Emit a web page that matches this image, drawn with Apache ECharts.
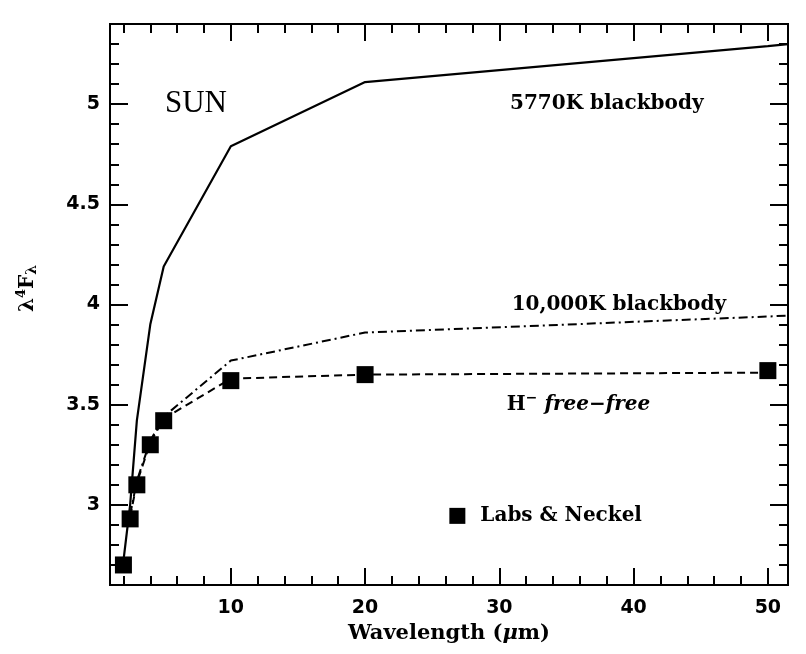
<!DOCTYPE html>
<html>
<head>
<meta charset="utf-8">
<title>SUN</title>
<script src="https://cdn.jsdelivr.net/npm/echarts@6/dist/echarts.min.js"></script>
<style>
  html, body { margin: 0; padding: 0; background: #fff; }
  #chart { width: 806px; height: 654px; }
</style>
</head>
<body>
<div id="chart"></div>
<script>
// Labs & Neckel points
const wavelengths = [2, 2.5, 3, 4, 5, 10, 20, 50]
const labsNeckel = [2.70, 2.93, 3.10, 3.30, 3.42, 3.62, 3.65, 3.67]

// H- free-free (dashed)
const hffWave = [2.5, 3, 4, 5, 10, 20, 50]
const hffValues = [2.94, 3.11, 3.31, 3.43, 3.63, 3.65, 3.66]

// 5770K blackbody (solid), last value read where the curve meets the frame
const bb5770Wave = [2, 2.5, 3, 4, 5, 10, 20, 50, 51.5]
const bb5770 = [2.72, 3.0, 3.42, 3.9, 4.19, 4.79, 5.11, 5.29, 5.3]

// 10,000K blackbody (dash-dot)
const bb10000Wave = [2.5, 3, 4, 5, 10, 20, 50, 51.5]
const bb10000 = [2.95, 3.12, 3.32, 3.44, 3.72, 3.86, 3.94, 3.945]

// ticks
const xMajor = [10, 20, 30, 40, 50]
const xMinor = [2, 4, 6, 8, 12, 14, 16, 18, 22, 24, 26, 28, 32, 34, 36, 38, 42, 44, 46, 48]
const yMajor = [3, 3.5, 4, 4.5, 5]
const yMinor = [2.7, 2.8, 2.9, 3.1, 3.2, 3.3, 3.4, 3.6, 3.7, 3.8, 3.9, 4.1, 4.2, 4.3, 4.4, 4.6, 4.7, 4.8, 4.9, 5.1, 5.2, 5.3]

const pairs = (xs, ys) => xs.map((x, i) => [x, ys[i]])

const serif = "DejaVu Serif"
const tickFont = { color: "#000", fontFamily: "DejaVu Sans", fontWeight: "bold", fontSize: 19 }
const black = { color: "#000", width: 2 }

function xAxisDef(pos, ticks, len, withLabels) {
  const ax = {
    type: "value", position: pos, min: 1, max: 51.5,
    splitLine: { show: false },
    axisLine: { onZero: false, lineStyle: black },
    axisTick: { inside: true, length: len, customValues: ticks, lineStyle: black },
    axisLabel: { show: false }
  }
  if (withLabels) {
    ax.axisLabel = { show: true, customValues: xMajor, margin: 14, ...tickFont }
    ax.name = "{a|Wavelength (}{i|μ}{a|m)}"
    ax.nameLocation = "middle"
    ax.nameGap = 36
    ax.nameTextStyle = {
      color: "#000", fontFamily: serif, fontWeight: "bold", fontSize: 21,
      rich: {
        a: { color: "#000", fontFamily: serif, fontWeight: "bold", fontSize: 21 },
        i: { color: "#000", fontFamily: serif, fontWeight: "bold", fontStyle: "italic", fontSize: 21 }
      }
    }
  }
  return ax
}

function yAxisDef(pos, ticks, len, withLabels) {
  const ax = {
    type: "value", position: pos, min: 2.6, max: 5.4,
    splitLine: { show: false },
    axisLine: { onZero: false, lineStyle: black },
    axisTick: { inside: true, length: len, customValues: ticks, lineStyle: black },
    axisLabel: { show: false }
  }
  if (withLabels) {
    ax.axisLabel = { show: true, customValues: yMajor, margin: 10, ...tickFont }
    ax.name = "{a|λ}{sup|4}{a|F}{sub|λ}"
    ax.nameLocation = "middle"
    ax.nameRotate = 90
    ax.nameGap = 70
    ax.nameTextStyle = {
      color: "#000", fontFamily: serif, fontWeight: "bold", fontSize: 20,
      padding: [0, 0, 0, 32],
      rich: {
        a: { fontFamily: serif, fontWeight: "bold", fontSize: 20, color: "#000" },
        sup: { fontFamily: serif, fontWeight: "bold", fontSize: 13, color: "#000", padding: [0, 0, 12, 0] },
        sub: { fontFamily: serif, fontWeight: "bold", fontSize: 14, color: "#000", padding: [10, 0, 0, 0] }
      }
    }
  }
  return ax
}

const chart = echarts.init(document.getElementById("chart"), null, { renderer: "canvas" })

const option = {
  backgroundColor: "#fff",
  animation: false,
  grid: { left: 110, right: 18, top: 24, bottom: 69, containLabel: false, outerBoundsMode: "none" },
  xAxis: [
    xAxisDef("bottom", xMajor, 17, true),
    xAxisDef("bottom", xMinor, 9, false),
    xAxisDef("top", xMajor, 17, false),
    xAxisDef("top", xMinor, 9, false)
  ],
  yAxis: [
    yAxisDef("left", yMajor, 18, true),
    yAxisDef("left", yMinor, 9, false),
    yAxisDef("right", yMajor, 18, false),
    yAxisDef("right", yMinor, 9, false)
  ],
  legend: {
    data: ["Labs & Neckel"],
    left: 0, top: 0,
    itemWidth: 16, itemHeight: 16,
    icon: "rect",
    itemStyle: { color: "#000", opacity: 1 },
    textStyle: { color: "#000", fontFamily: serif, fontWeight: "bold", fontSize: 20, padding: [0, 0, 0, 10] }
  },
  series: [
    {
      name: "5770K blackbody", type: "line", data: pairs(bb5770Wave, bb5770),
      symbol: "none", lineStyle: { color: "#000", width: 2.2, type: "solid" }, z: 2
    },
    {
      name: "10,000K blackbody", type: "line", data: pairs(bb10000Wave, bb10000),
      symbol: "none", lineStyle: { color: "#000", width: 2, type: [9, 4, 2, 4] }, z: 2
    },
    {
      name: "H- free-free", type: "line", data: pairs(hffWave, hffValues),
      symbol: "none", lineStyle: { color: "#000", width: 2, type: [8, 5] }, z: 2
    },
    {
      name: "Labs & Neckel", type: "scatter", data: pairs(wavelengths, labsNeckel),
      symbol: "rect", symbolSize: 17, itemStyle: { color: "#000", opacity: 1 }, z: 3
    }
  ]
}

chart.setOption(option)

// annotations anchored in data coordinates
const notes = [
  { at: [7.4, 5.0], text: "SUN", font: { fontFamily: "Liberation Serif", fontWeight: "normal", fontSize: 31 } },
  { at: [38, 5.0], text: "5770K blackbody" },
  { at: [38.9, 4.0], text: "10,000K blackbody" },
  { at: [35.9, 3.5], text: "{n|H}{sup|−}{n| }{it|free−free}" }
]

const graphics = notes.map((n) => {
  const p = chart.convertToPixel({ seriesIndex: 0 }, n.at)
  return {
    type: "text",
    x: p[0], y: p[1],
    style: Object.assign({
      text: n.text,
      fill: "#000",
      fontFamily: serif, fontWeight: "bold", fontSize: 20,
      align: "center", verticalAlign: "middle",
      rich: {
        n: { fontFamily: serif, fontWeight: "bold", fontSize: 20, fill: "#000" },
        it: { fontFamily: serif, fontWeight: "bold", fontStyle: "italic", fontSize: 20, fill: "#000" },
        sup: { fontFamily: serif, fontWeight: "bold", fontSize: 14, fill: "#000", padding: [0, 0, 12, 0] }
      }
    }, n.font || {})
  }
})

const lp = chart.convertToPixel({ seriesIndex: 0 }, [26.5, 2.98])
chart.setOption({
  graphic: graphics,
  legend: { left: lp[0] - 8, top: lp[1] - 8 }
})
</script>
</body>
</html>
